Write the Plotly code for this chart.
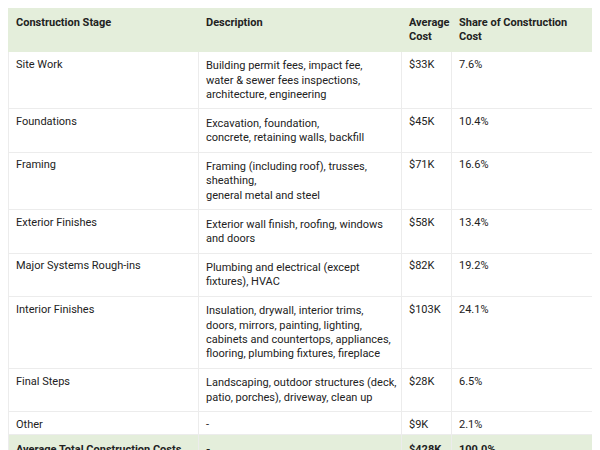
import plotly.graph_objects as go

headers = ['<b>Construction Stage</b>', '<b>Description</b>', '<b>Average<br>Cost</b>', '<b>Share of Construction<br>Cost</b>']

stages = ['Site Work', 'Foundations', 'Framing', 'Exterior Finishes', 'Major Systems Rough-ins',
          'Interior Finishes', 'Final Steps', 'Other', '<b>Average Total Construction Costs</b>']
descriptions = [
    'Building permit fees, impact fee,<br>water & sewer fees inspections,<br>architecture, engineering',
    'Excavation, foundation,<br>concrete, retaining walls, backfill',
    'Framing (including roof), trusses,<br>sheathing,<br>general metal and steel',
    'Exterior wall finish, roofing, windows<br>and doors',
    'Plumbing and electrical (except<br>fixtures), HVAC',
    'Insulation, drywall, interior trims,<br>doors, mirrors, painting, lighting,<br>cabinets and countertops, appliances,<br>flooring, plumbing fixtures, fireplace',
    'Landscaping, outdoor structures (deck,<br>patio, porches), driveway, clean up',
    '-',
    '<b>-</b>',
]
costs = ['$33K', '$45K', '$71K', '$58K', '$82K', '$103K', '$28K', '$9K', '<b>$428K</b>']
shares = ['7.6%', '10.4%', '16.6%', '13.4%', '19.2%', '24.1%', '6.5%', '2.1%', '<b>100.0%</b>']

green = '#e4eedb'
row_fill = ['white'] * 8 + [green]

fig = go.Figure(go.Table(
    columnwidth=[190, 203, 50, 157],
    header=dict(values=headers, fill_color=green, line_color=green,
                align='left', height=24,
                font=dict(family='Roboto', size=11, color='#222222')),
    cells=dict(values=[stages, descriptions, costs, shares],
               fill_color=[row_fill] * 4, line_color='#ececec',
               align='left', height=23,
               font=dict(family='Roboto', size=11, color='#222222')),
))
fig.update_layout(width=600, height=450, margin=dict(l=0, r=0, t=0, b=0),
                  paper_bgcolor='white')
fig.write_html("out.html")
